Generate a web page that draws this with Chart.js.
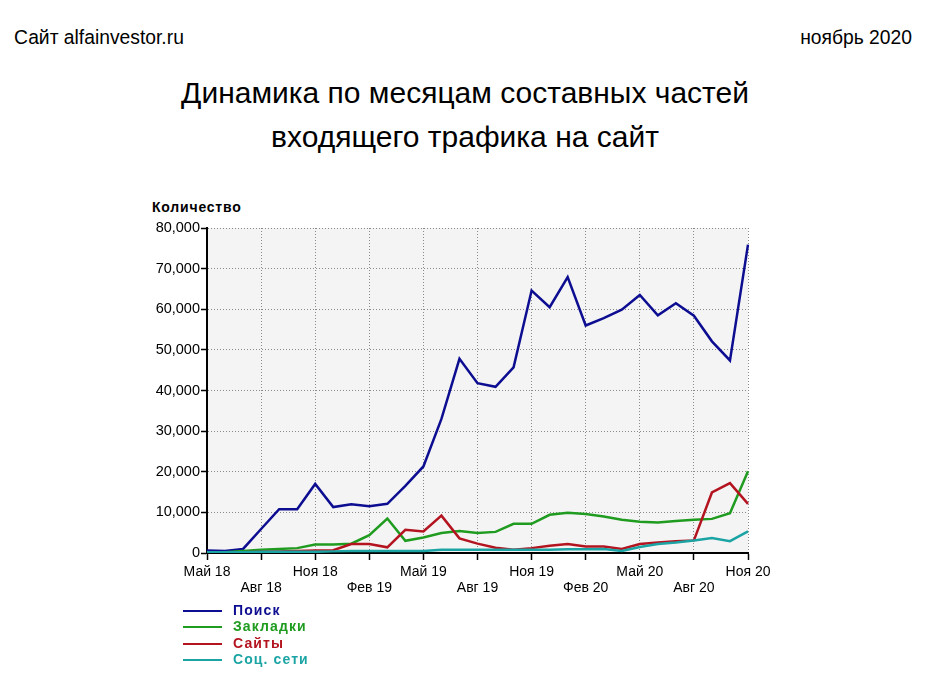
<!DOCTYPE html>
<html>
<head>
<meta charset="utf-8">
<script src="https://cdn.jsdelivr.net/npm/chart.js@4.4.1/dist/chart.umd.min.js"></script>
<style>
  html, body { margin: 0; padding: 0; background: #fff; }
  body { width: 951px; height: 683px; position: relative; overflow: hidden; font-family: "Liberation Sans", Arial, sans-serif; color: #000; }
  #c { position: absolute; left: 0; top: 0; }
  .hdr { position: absolute; font-size: 19.3px; line-height: 22px; top: 27px; white-space: nowrap; }
  #title { position: absolute; left: 0; width: 930px; top: 71px; text-align: center; font-size: 30px; line-height: 44px; white-space: nowrap; }
  #ytitle { position: absolute; left: 152px; top: 199px; font-size: 14px; font-weight: bold; letter-spacing: 0.8px; line-height: 17px; }
  #legend { position: absolute; left: 183px; top: 602px; }
  .li { height: 16.3px; position: relative; }
  .li .ln { position: absolute; left: 0; top: 8px; width: 39px; height: 2px; }
  .li .tx { position: absolute; left: 50px; top: 0; font-size: 14px; font-weight: bold; letter-spacing: 1.1px; line-height: 17px; white-space: nowrap; }
</style>
</head>
<body>
<div class="hdr" style="left:14px">Сайт alfainvestor.ru</div>
<div class="hdr" style="right:39px">ноябрь 2020</div>
<div id="title">Динамика по месяцам составных частей<br>входящего трафика на сайт</div>
<div id="ytitle">Количество</div>
<canvas id="c" width="951" height="683"></canvas>
<div id="legend"></div>
<script>
const months = ['Май 18','Июн 18','Июл 18','Авг 18','Сен 18','Окт 18','Ноя 18','Дек 18','Янв 19','Фев 19','Мар 19','Апр 19','Май 19','Июн 19','Июл 19','Авг 19','Сен 19','Окт 19','Ноя 19','Дек 19','Янв 20','Фев 20','Мар 20','Апр 20','Май 20','Июн 20','Июл 20','Авг 20','Сен 20','Окт 20','Ноя 20'];
const tickLabels = ['Май 18','Авг 18','Ноя 18','Фев 19','Май 19','Авг 19','Ноя 19','Фев 20','Май 20','Авг 20','Ноя 20'];
const seriesNames = ['Поиск','Закладки','Сайты','Соц. сети'];
const poisk = [600, 500, 1000, 5900, 10800, 10800, 17000, 11300, 12000, 11500, 12100, 16500, 21300, 33000, 47800, 41800, 40900, 45700, 64600, 60500, 67900, 56000, 57800, 59900, 63500, 58500, 61500, 58400, 52100, 47400, 75900];
const zakladki = [100, 200, 500, 800, 1000, 1200, 2100, 2100, 2300, 4400, 8500, 3000, 3800, 4900, 5400, 4900, 5200, 7200, 7200, 9400, 9900, 9600, 9000, 8200, 7700, 7500, 7900, 8200, 8400, 9800, 20100];
const saity = [100, 200, 200, 300, 400, 500, 600, 700, 2200, 2200, 1400, 5700, 5300, 9200, 3600, 2300, 1300, 800, 1200, 1800, 2200, 1600, 1600, 1000, 2200, 2600, 2900, 3100, 14900, 17200, 12100];
const socSeti = [200, 200, 200, 300, 300, 300, 300, 400, 500, 500, 500, 500, 500, 800, 800, 800, 800, 800, 800, 800, 900, 900, 1000, 500, 1500, 2200, 2600, 3100, 3700, 2900, 5300];
const colors = ['#0d0d92', '#1f9c1f', '#b3141f', '#1ca4a4'];
const yTicks = [0, 10000, 20000, 30000, 40000, 50000, 60000, 70000, 80000];

const allSeries = [poisk, zakladki, saity, socSeti];

const bgPlugin = {
  id: 'bg',
  beforeDraw(chart) {
    const a = chart.chartArea, ctx = chart.ctx;
    ctx.save();
    ctx.fillStyle = '#f4f4f4';
    ctx.fillRect(a.left, a.top, a.right - a.left, a.bottom - a.top);
    ctx.restore();
  }
};

const isQuarter = (i) => i % 3 === 0;

new Chart(document.getElementById('c'), {
  type: 'line',
  data: {
    labels: months,
    datasets: allSeries.map((d, i) => ({
      label: seriesNames[i],
      data: d,
      borderColor: colors[i],
      backgroundColor: colors[i],
      borderWidth: 2.5,
      pointRadius: 0,
      tension: 0,
      fill: false
    })).reverse()
  },
  options: {
    responsive: false,
    animation: false,
    devicePixelRatio: 1,
    layout: { padding: { left: 0, top: 228, right: 203, bottom: 0 } },
    plugins: { legend: { display: false }, title: { display: false }, tooltip: { enabled: false } },
    scales: {
      x: {
        type: 'category',
        offset: false,
        afterFit(s) { s.height = 130; },
        border: { display: true, color: '#000', width: 2, dash: [1, 2] },
        grid: {
          color: (c) => isQuarter(c.index) ? '#8a8a8a' : 'rgba(0,0,0,0)',
          tickColor: (c) => isQuarter(c.index) ? '#000' : 'rgba(0,0,0,0)',
          tickBorderDash: [],
          lineWidth: 1,
          tickWidth: 1.5,
          tickLength: 7,
          drawTicks: true
        },
        ticks: {
          autoSkip: false,
          maxRotation: 0,
          minRotation: 0,
          padding: 4,
          color: '#000',
          font: { family: '"Liberation Sans", Arial, sans-serif', size: 14, lineHeight: 1.15 },
          callback(v, i) {
            if (!isQuarter(i)) return '';
            const q = i / 3;
            return q % 2 === 0 ? [tickLabels[q]] : ['', tickLabels[q]];
          }
        }
      },
      y: {
        min: 0,
        max: 80000,
        afterFit(s) { s.width = 207; },
        afterBuildTicks(s) { s.ticks = yTicks.map(v => ({ value: v })); },
        border: { display: true, color: '#000', width: 2, dash: [1, 2] },
        grid: {
          color: '#8a8a8a',
          tickColor: '#000',
          tickBorderDash: [],
          lineWidth: 1,
          tickWidth: 1.5,
          tickLength: 6,
          drawTicks: true
        },
        ticks: {
          padding: 1,
          color: '#000',
          font: { family: '"Liberation Sans", Arial, sans-serif', size: 14.5 },
          callback(v) { return Number(v).toLocaleString('en-US'); }
        }
      }
    }
  },
  plugins: [bgPlugin]
});

const lg = document.getElementById('legend');
seriesNames.forEach((n, i) => {
  const d = document.createElement('div');
  d.className = 'li';
  d.innerHTML = '<span class="ln" style="background:' + colors[i] + '"></span><span class="tx" style="color:' + colors[i] + '">' + n + '</span>';
  lg.appendChild(d);
});
</script>
</body>
</html>
